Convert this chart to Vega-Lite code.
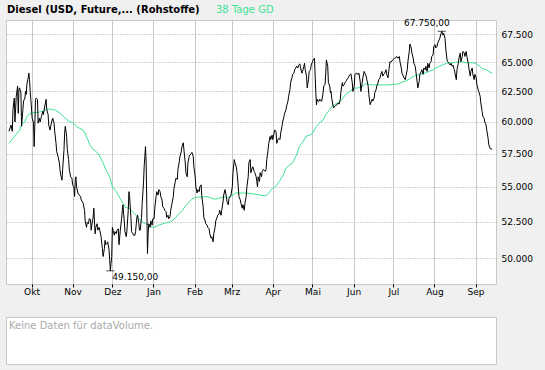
{
  "$schema": "https://vega.github.io/schema/vega-lite/v6.json",
  "background": "#f0f0f0",
  "padding": {"left": 5, "top": 5, "right": 13, "bottom": 5},
  "config": {
    "locale": {
      "number": {"decimal": ",", "thousands": ".", "grouping": [3], "currency": ["", " €"]},
      "time": {
        "dateTime": "%A, der %e. %B %Y, %X",
        "date": "%d.%m.%Y",
        "time": "%H:%M:%S",
        "periods": ["AM", "PM"],
        "days": ["Sonntag", "Montag", "Dienstag", "Mittwoch", "Donnerstag", "Freitag", "Samstag"],
        "shortDays": ["So", "Mo", "Di", "Mi", "Do", "Fr", "Sa"],
        "months": ["Januar", "Februar", "März", "April", "Mai", "Juni", "Juli", "August", "September", "Oktober", "November", "Dezember"],
        "shortMonths": ["Jan", "Feb", "Mrz", "Apr", "Mai", "Jun", "Jul", "Aug", "Sep", "Okt", "Nov", "Dez"]
      }
    },
    "view": {"stroke": "#c8c8c8", "fill": "white"},
    "font": "DejaVu Sans"
  },
  "spacing": 19,
  "datasets": {
    "price": [
      {"t": "2018-09-14T00:00", "v": 59250}, {"t": "2018-09-15T12:00", "v": 59750}, {"t": "2018-09-16T12:00", "v": 59250}, {"t": "2018-09-17T00:00", "v": 61000}, {"t": "2018-09-18T00:00", "v": 61950}, {"t": "2018-09-18T12:00", "v": 60000}, {"t": "2018-09-19T12:00", "v": 62100}, {"t": "2018-09-20T12:00", "v": 62950}, {"t": "2018-09-21T00:00", "v": 60700}, {"t": "2018-09-21T12:00", "v": 62650}, {"t": "2018-09-22T00:00", "v": 62800}, {"t": "2018-09-23T00:00", "v": 62400}, {"t": "2018-09-23T12:00", "v": 59650}, {"t": "2018-09-24T12:00", "v": 61000}, {"t": "2018-09-25T00:00", "v": 61700}, {"t": "2018-09-26T00:00", "v": 61950}, {"t": "2018-09-26T12:00", "v": 62500}, {"t": "2018-09-27T00:00", "v": 62250}, {"t": "2018-09-27T12:00", "v": 63100}, {"t": "2018-09-28T12:00", "v": 63650}, {"t": "2018-09-29T00:00", "v": 64050}, {"t": "2018-09-29T12:00", "v": 63500}, {"t": "2018-09-30T00:00", "v": 62500}, {"t": "2018-09-30T12:00", "v": 61850},
      {"t": "2018-10-01T12:00", "v": 60300}, {"t": "2018-10-02T12:00", "v": 59900}, {"t": "2018-10-03T00:00", "v": 58050}, {"t": "2018-10-03T12:00", "v": 59750}, {"t": "2018-10-04T00:00", "v": 61850}, {"t": "2018-10-04T12:00", "v": 61950}, {"t": "2018-10-05T12:00", "v": 61850}, {"t": "2018-10-06T00:00", "v": 59900}, {"t": "2018-10-07T00:00", "v": 60300}, {"t": "2018-10-07T12:00", "v": 60000}, {"t": "2018-10-08T12:00", "v": 60450}, {"t": "2018-10-09T12:00", "v": 60850}, {"t": "2018-10-10T00:00", "v": 60600}, {"t": "2018-10-11T00:00", "v": 61300}, {"t": "2018-10-11T12:00", "v": 61550}, {"t": "2018-10-12T00:00", "v": 61850}, {"t": "2018-10-12T12:00", "v": 61000}, {"t": "2018-10-13T12:00", "v": 60600}, {"t": "2018-10-14T00:00", "v": 59750}, {"t": "2018-10-15T00:00", "v": 59350}, {"t": "2018-10-15T12:00", "v": 59650}, {"t": "2018-10-16T12:00", "v": 60150}, {"t": "2018-10-17T00:00", "v": 60300}, {"t": "2018-10-18T00:00", "v": 59900}, {"t": "2018-10-18T12:00", "v": 59250}, {"t": "2018-10-19T12:00", "v": 58300}, {"t": "2018-10-20T00:00", "v": 57650}, {"t": "2018-10-21T00:00", "v": 57300}, {"t": "2018-10-22T00:00", "v": 56800}, {"t": "2018-10-22T12:00", "v": 56300}, {"t": "2018-10-23T00:00", "v": 55900}, {"t": "2018-10-24T00:00", "v": 55500}, {"t": "2018-10-24T12:00", "v": 56300}, {"t": "2018-10-25T12:00", "v": 57800}, {"t": "2018-10-26T00:00", "v": 59100}, {"t": "2018-10-26T12:00", "v": 59650}, {"t": "2018-10-27T12:00", "v": 58850}, {"t": "2018-10-28T00:00", "v": 57800}, {"t": "2018-10-29T00:00", "v": 57050}, {"t": "2018-10-29T12:00", "v": 56300}, {"t": "2018-10-30T12:00", "v": 55750}, {"t": "2018-10-31T12:00", "v": 55650},
      {"t": "2018-11-01T00:00", "v": 55150}, {"t": "2018-11-02T00:00", "v": 55000}, {"t": "2018-11-02T12:00", "v": 54300}, {"t": "2018-11-03T00:00", "v": 55500}, {"t": "2018-11-03T12:00", "v": 55750}, {"t": "2018-11-04T00:00", "v": 55000}, {"t": "2018-11-05T00:00", "v": 54550}, {"t": "2018-11-06T00:00", "v": 54400}, {"t": "2018-11-07T00:00", "v": 54300}, {"t": "2018-11-07T12:00", "v": 54050}, {"t": "2018-11-08T12:00", "v": 53900}, {"t": "2018-11-09T00:00", "v": 53800}, {"t": "2018-11-10T00:00", "v": 53300}, {"t": "2018-11-10T12:00", "v": 52550}, {"t": "2018-11-11T12:00", "v": 52100}, {"t": "2018-11-12T00:00", "v": 52450}, {"t": "2018-11-13T00:00", "v": 52350}, {"t": "2018-11-13T12:00", "v": 52700}, {"t": "2018-11-14T12:00", "v": 52650}, {"t": "2018-11-15T00:00", "v": 51900}, {"t": "2018-11-16T00:00", "v": 52550}, {"t": "2018-11-16T12:00", "v": 52800}, {"t": "2018-11-17T00:00", "v": 53450}, {"t": "2018-11-18T00:00", "v": 51650}, {"t": "2018-11-18T12:00", "v": 52100}, {"t": "2018-11-19T12:00", "v": 52350}, {"t": "2018-11-20T00:00", "v": 51900}, {"t": "2018-11-21T00:00", "v": 52100}, {"t": "2018-11-21T12:00", "v": 51900}, {"t": "2018-11-22T12:00", "v": 51450}, {"t": "2018-11-23T00:00", "v": 51000}, {"t": "2018-11-23T12:00", "v": 50650}, {"t": "2018-11-24T00:00", "v": 50100}, {"t": "2018-11-25T00:00", "v": 50650}, {"t": "2018-11-25T12:00", "v": 51200}, {"t": "2018-11-26T00:00", "v": 50900}, {"t": "2018-11-27T00:00", "v": 51000}, {"t": "2018-11-27T12:00", "v": 51100}, {"t": "2018-11-28T12:00", "v": 50550}, {"t": "2018-11-29T00:00", "v": 49850}, {"t": "2018-11-29T12:00", "v": 49150}, {"t": "2018-11-30T00:00", "v": 49650}, {"t": "2018-11-30T12:00", "v": 50100},
      {"t": "2018-12-01T00:00", "v": 52100}, {"t": "2018-12-01T12:00", "v": 51900}, {"t": "2018-12-02T12:00", "v": 51550}, {"t": "2018-12-03T00:00", "v": 51800}, {"t": "2018-12-04T00:00", "v": 51650}, {"t": "2018-12-04T12:00", "v": 51900}, {"t": "2018-12-05T12:00", "v": 52000}, {"t": "2018-12-06T00:00", "v": 50900}, {"t": "2018-12-07T00:00", "v": 51900}, {"t": "2018-12-08T00:00", "v": 52700}, {"t": "2018-12-08T12:00", "v": 53300}, {"t": "2018-12-09T00:00", "v": 53700}, {"t": "2018-12-09T12:00", "v": 53050}, {"t": "2018-12-10T00:00", "v": 52550}, {"t": "2018-12-10T12:00", "v": 51800}, {"t": "2018-12-11T12:00", "v": 51450}, {"t": "2018-12-12T00:00", "v": 51900}, {"t": "2018-12-13T00:00", "v": 53300}, {"t": "2018-12-13T12:00", "v": 54650}, {"t": "2018-12-14T00:00", "v": 54300}, {"t": "2018-12-15T00:00", "v": 52800}, {"t": "2018-12-15T12:00", "v": 51800}, {"t": "2018-12-16T12:00", "v": 51650}, {"t": "2018-12-17T00:00", "v": 51550}, {"t": "2018-12-18T00:00", "v": 51550}, {"t": "2018-12-18T12:00", "v": 51800}, {"t": "2018-12-19T12:00", "v": 52800}, {"t": "2018-12-20T00:00", "v": 52950}, {"t": "2018-12-21T00:00", "v": 52350}, {"t": "2018-12-21T12:00", "v": 51900}, {"t": "2018-12-22T00:00", "v": 51900}, {"t": "2018-12-23T00:00", "v": 52800}, {"t": "2018-12-23T12:00", "v": 53800}, {"t": "2018-12-24T12:00", "v": 55300}, {"t": "2018-12-25T00:00", "v": 56500}, {"t": "2018-12-25T12:00", "v": 57300}, {"t": "2018-12-26T00:00", "v": 58050}, {"t": "2018-12-26T12:00", "v": 56800}, {"t": "2018-12-27T00:00", "v": 53550}, {"t": "2018-12-27T12:00", "v": 50300}, {"t": "2018-12-28T00:00", "v": 51650}, {"t": "2018-12-28T12:00", "v": 52350}, {"t": "2018-12-29T12:00", "v": 52100}, {"t": "2018-12-30T00:00", "v": 52550}, {"t": "2018-12-31T00:00", "v": 52250}, {"t": "2018-12-31T12:00", "v": 52700},
      {"t": "2019-01-01T12:00", "v": 52700}, {"t": "2019-01-02T00:00", "v": 53450}, {"t": "2019-01-03T00:00", "v": 54300}, {"t": "2019-01-03T12:00", "v": 54650}, {"t": "2019-01-04T12:00", "v": 54400}, {"t": "2019-01-05T00:00", "v": 54800}, {"t": "2019-01-06T00:00", "v": 54650}, {"t": "2019-01-06T12:00", "v": 54300}, {"t": "2019-01-07T12:00", "v": 54050}, {"t": "2019-01-08T00:00", "v": 53550}, {"t": "2019-01-09T00:00", "v": 53450}, {"t": "2019-01-09T12:00", "v": 53300}, {"t": "2019-01-10T12:00", "v": 53200}, {"t": "2019-01-11T00:00", "v": 52800}, {"t": "2019-01-12T00:00", "v": 52950}, {"t": "2019-01-12T12:00", "v": 52700}, {"t": "2019-01-13T12:00", "v": 52850}, {"t": "2019-01-14T00:00", "v": 53300}, {"t": "2019-01-15T00:00", "v": 53800}, {"t": "2019-01-16T00:00", "v": 54300}, {"t": "2019-01-16T12:00", "v": 54900}, {"t": "2019-01-17T12:00", "v": 55400}, {"t": "2019-01-18T00:00", "v": 55650}, {"t": "2019-01-19T00:00", "v": 55550}, {"t": "2019-01-19T12:00", "v": 56300}, {"t": "2019-01-20T12:00", "v": 56900}, {"t": "2019-01-21T00:00", "v": 57300}, {"t": "2019-01-22T00:00", "v": 57650}, {"t": "2019-01-22T12:00", "v": 58050}, {"t": "2019-01-23T12:00", "v": 58350}, {"t": "2019-01-24T00:00", "v": 57800}, {"t": "2019-01-25T00:00", "v": 56800}, {"t": "2019-01-25T12:00", "v": 56050}, {"t": "2019-01-26T12:00", "v": 55750}, {"t": "2019-01-27T00:00", "v": 56800}, {"t": "2019-01-28T00:00", "v": 57300}, {"t": "2019-01-28T12:00", "v": 57400}, {"t": "2019-01-29T12:00", "v": 57500}, {"t": "2019-01-30T00:00", "v": 57600}, {"t": "2019-01-31T00:00", "v": 57300}, {"t": "2019-01-31T12:00", "v": 56500},
      {"t": "2019-02-01T12:00", "v": 55750}, {"t": "2019-02-02T00:00", "v": 55000}, {"t": "2019-02-03T00:00", "v": 54550}, {"t": "2019-02-03T12:00", "v": 54800}, {"t": "2019-02-04T12:00", "v": 54650}, {"t": "2019-02-05T00:00", "v": 55000}, {"t": "2019-02-06T00:00", "v": 55150}, {"t": "2019-02-06T12:00", "v": 54300}, {"t": "2019-02-07T12:00", "v": 53550}, {"t": "2019-02-08T00:00", "v": 52800}, {"t": "2019-02-09T00:00", "v": 52550}, {"t": "2019-02-09T12:00", "v": 52350}, {"t": "2019-02-10T12:00", "v": 52250}, {"t": "2019-02-11T00:00", "v": 52100}, {"t": "2019-02-12T00:00", "v": 52000}, {"t": "2019-02-12T12:00", "v": 51650}, {"t": "2019-02-13T12:00", "v": 51350}, {"t": "2019-02-14T00:00", "v": 51450}, {"t": "2019-02-15T00:00", "v": 51100}, {"t": "2019-02-15T12:00", "v": 51650}, {"t": "2019-02-16T12:00", "v": 52100}, {"t": "2019-02-17T00:00", "v": 52550}, {"t": "2019-02-18T00:00", "v": 52800}, {"t": "2019-02-18T12:00", "v": 52950}, {"t": "2019-02-19T12:00", "v": 53050}, {"t": "2019-02-20T00:00", "v": 53300}, {"t": "2019-02-21T00:00", "v": 52950}, {"t": "2019-02-21T12:00", "v": 53300}, {"t": "2019-02-22T12:00", "v": 53900}, {"t": "2019-02-23T00:00", "v": 54400}, {"t": "2019-02-24T00:00", "v": 54800}, {"t": "2019-02-25T00:00", "v": 54300}, {"t": "2019-02-25T12:00", "v": 53900}, {"t": "2019-02-26T12:00", "v": 53700}, {"t": "2019-02-27T00:00", "v": 54150}, {"t": "2019-02-28T00:00", "v": 54300}, {"t": "2019-02-28T12:00", "v": 54400},
      {"t": "2019-03-01T12:00", "v": 55000}, {"t": "2019-03-02T00:00", "v": 56050}, {"t": "2019-03-03T00:00", "v": 57050}, {"t": "2019-03-03T12:00", "v": 56800}, {"t": "2019-03-04T12:00", "v": 56500}, {"t": "2019-03-05T00:00", "v": 56150}, {"t": "2019-03-06T00:00", "v": 55000}, {"t": "2019-03-06T12:00", "v": 54300}, {"t": "2019-03-07T12:00", "v": 54050}, {"t": "2019-03-08T00:00", "v": 53800}, {"t": "2019-03-09T00:00", "v": 53450}, {"t": "2019-03-09T12:00", "v": 53700}, {"t": "2019-03-10T12:00", "v": 53300}, {"t": "2019-03-11T00:00", "v": 53800}, {"t": "2019-03-12T00:00", "v": 54300}, {"t": "2019-03-12T12:00", "v": 55000}, {"t": "2019-03-13T12:00", "v": 55750}, {"t": "2019-03-14T00:00", "v": 56800}, {"t": "2019-03-15T00:00", "v": 57050}, {"t": "2019-03-15T12:00", "v": 56050}, {"t": "2019-03-16T12:00", "v": 56400}, {"t": "2019-03-17T00:00", "v": 56500}, {"t": "2019-03-18T00:00", "v": 56150}, {"t": "2019-03-18T12:00", "v": 56050}, {"t": "2019-03-19T12:00", "v": 55750}, {"t": "2019-03-20T00:00", "v": 55400}, {"t": "2019-03-20T12:00", "v": 55000}, {"t": "2019-03-21T00:00", "v": 55750}, {"t": "2019-03-22T00:00", "v": 55400}, {"t": "2019-03-22T12:00", "v": 56050}, {"t": "2019-03-23T12:00", "v": 55750}, {"t": "2019-03-24T00:00", "v": 56150}, {"t": "2019-03-25T00:00", "v": 56300}, {"t": "2019-03-25T12:00", "v": 56250}, {"t": "2019-03-26T12:00", "v": 56150}, {"t": "2019-03-27T00:00", "v": 56300}, {"t": "2019-03-27T12:00", "v": 57050}, {"t": "2019-03-28T12:00", "v": 57800}, {"t": "2019-03-29T00:00", "v": 58300}, {"t": "2019-03-30T00:00", "v": 58850}, {"t": "2019-03-30T12:00", "v": 58600}, {"t": "2019-03-31T12:00", "v": 58950},
      {"t": "2019-04-01T00:00", "v": 58600}, {"t": "2019-04-02T00:00", "v": 59100}, {"t": "2019-04-02T12:00", "v": 59350}, {"t": "2019-04-03T12:00", "v": 59250}, {"t": "2019-04-04T00:00", "v": 58300}, {"t": "2019-04-05T00:00", "v": 58600}, {"t": "2019-04-05T12:00", "v": 58700}, {"t": "2019-04-06T12:00", "v": 58600}, {"t": "2019-04-07T00:00", "v": 59100}, {"t": "2019-04-08T00:00", "v": 59650}, {"t": "2019-04-08T12:00", "v": 60000}, {"t": "2019-04-09T12:00", "v": 60450}, {"t": "2019-04-10T00:00", "v": 60700}, {"t": "2019-04-11T00:00", "v": 61000}, {"t": "2019-04-11T12:00", "v": 61300}, {"t": "2019-04-12T12:00", "v": 61700}, {"t": "2019-04-13T00:00", "v": 62100}, {"t": "2019-04-14T00:00", "v": 62650}, {"t": "2019-04-14T12:00", "v": 63250}, {"t": "2019-04-15T12:00", "v": 63650}, {"t": "2019-04-16T00:00", "v": 63950}, {"t": "2019-04-17T00:00", "v": 64050}, {"t": "2019-04-17T12:00", "v": 64350}, {"t": "2019-04-18T12:00", "v": 64500}, {"t": "2019-04-19T00:00", "v": 64650}, {"t": "2019-04-20T00:00", "v": 64500}, {"t": "2019-04-20T12:00", "v": 64750}, {"t": "2019-04-21T12:00", "v": 64850}, {"t": "2019-04-22T00:00", "v": 64500}, {"t": "2019-04-23T00:00", "v": 64050}, {"t": "2019-04-23T12:00", "v": 64200}, {"t": "2019-04-24T12:00", "v": 64650}, {"t": "2019-04-25T00:00", "v": 64900}, {"t": "2019-04-25T12:00", "v": 64350}, {"t": "2019-04-26T12:00", "v": 63800}, {"t": "2019-04-27T00:00", "v": 62800}, {"t": "2019-04-28T00:00", "v": 63500}, {"t": "2019-04-28T12:00", "v": 64200}, {"t": "2019-04-29T12:00", "v": 64350}, {"t": "2019-04-30T00:00", "v": 64750},
      {"t": "2019-05-01T00:00", "v": 65050}, {"t": "2019-05-01T12:00", "v": 65200}, {"t": "2019-05-02T12:00", "v": 65350}, {"t": "2019-05-03T00:00", "v": 63800}, {"t": "2019-05-03T12:00", "v": 62400}, {"t": "2019-05-04T00:00", "v": 61400}, {"t": "2019-05-04T12:00", "v": 61850}, {"t": "2019-05-05T00:00", "v": 61700}, {"t": "2019-05-06T00:00", "v": 61700}, {"t": "2019-05-06T12:00", "v": 61850}, {"t": "2019-05-07T12:00", "v": 61700}, {"t": "2019-05-08T00:00", "v": 61700}, {"t": "2019-05-09T00:00", "v": 62400}, {"t": "2019-05-09T12:00", "v": 62950}, {"t": "2019-05-10T12:00", "v": 63100}, {"t": "2019-05-11T00:00", "v": 64050}, {"t": "2019-05-11T12:00", "v": 65200}, {"t": "2019-05-12T12:00", "v": 64650}, {"t": "2019-05-13T00:00", "v": 63250}, {"t": "2019-05-14T00:00", "v": 62950}, {"t": "2019-05-14T12:00", "v": 62400}, {"t": "2019-05-15T00:00", "v": 62500}, {"t": "2019-05-15T12:00", "v": 61950}, {"t": "2019-05-16T12:00", "v": 61300}, {"t": "2019-05-17T00:00", "v": 61150}, {"t": "2019-05-18T00:00", "v": 61300}, {"t": "2019-05-18T12:00", "v": 61350}, {"t": "2019-05-19T12:00", "v": 61400}, {"t": "2019-05-20T12:00", "v": 61550}, {"t": "2019-05-21T00:00", "v": 61450}, {"t": "2019-05-22T00:00", "v": 61850}, {"t": "2019-05-22T12:00", "v": 62500}, {"t": "2019-05-23T12:00", "v": 63250}, {"t": "2019-05-24T00:00", "v": 62950}, {"t": "2019-05-25T00:00", "v": 63100}, {"t": "2019-05-25T12:00", "v": 63250}, {"t": "2019-05-26T12:00", "v": 63400}, {"t": "2019-05-27T00:00", "v": 63500}, {"t": "2019-05-28T00:00", "v": 63650}, {"t": "2019-05-28T12:00", "v": 63800}, {"t": "2019-05-29T12:00", "v": 63950}, {"t": "2019-05-30T00:00", "v": 64000}, {"t": "2019-05-31T00:00", "v": 63250}, {"t": "2019-05-31T12:00", "v": 62500},
      {"t": "2019-06-01T12:00", "v": 62950}, {"t": "2019-06-02T00:00", "v": 63950}, {"t": "2019-06-03T00:00", "v": 64050}, {"t": "2019-06-03T12:00", "v": 64000}, {"t": "2019-06-04T12:00", "v": 63950}, {"t": "2019-06-05T00:00", "v": 64050}, {"t": "2019-06-06T00:00", "v": 63350}, {"t": "2019-06-06T12:00", "v": 62500}, {"t": "2019-06-07T12:00", "v": 63250}, {"t": "2019-06-08T00:00", "v": 63650}, {"t": "2019-06-09T00:00", "v": 64200}, {"t": "2019-06-09T12:00", "v": 64050}, {"t": "2019-06-10T12:00", "v": 63800}, {"t": "2019-06-11T00:00", "v": 63500}, {"t": "2019-06-12T00:00", "v": 62950}, {"t": "2019-06-12T12:00", "v": 62250}, {"t": "2019-06-13T12:00", "v": 61400}, {"t": "2019-06-14T00:00", "v": 61550}, {"t": "2019-06-15T00:00", "v": 61850}, {"t": "2019-06-15T12:00", "v": 61700}, {"t": "2019-06-16T12:00", "v": 61950}, {"t": "2019-06-17T00:00", "v": 62400}, {"t": "2019-06-18T00:00", "v": 62650}, {"t": "2019-06-18T12:00", "v": 62950}, {"t": "2019-06-19T12:00", "v": 63250}, {"t": "2019-06-20T00:00", "v": 63500}, {"t": "2019-06-21T00:00", "v": 63650}, {"t": "2019-06-21T12:00", "v": 63950}, {"t": "2019-06-22T12:00", "v": 64200}, {"t": "2019-06-23T00:00", "v": 63800}, {"t": "2019-06-24T00:00", "v": 64000}, {"t": "2019-06-24T12:00", "v": 64050}, {"t": "2019-06-25T12:00", "v": 64350}, {"t": "2019-06-26T00:00", "v": 63950}, {"t": "2019-06-27T00:00", "v": 63650}, {"t": "2019-06-27T12:00", "v": 64200}, {"t": "2019-06-28T12:00", "v": 65050}, {"t": "2019-06-29T00:00", "v": 65000}, {"t": "2019-06-30T00:00", "v": 65100}, {"t": "2019-06-30T12:00", "v": 65200},
      {"t": "2019-07-01T12:00", "v": 65300}, {"t": "2019-07-02T00:00", "v": 65350}, {"t": "2019-07-03T00:00", "v": 65400}, {"t": "2019-07-03T12:00", "v": 65500}, {"t": "2019-07-04T12:00", "v": 65350}, {"t": "2019-07-05T12:00", "v": 65500}, {"t": "2019-07-06T00:00", "v": 65050}, {"t": "2019-07-07T00:00", "v": 64500}, {"t": "2019-07-07T12:00", "v": 64050}, {"t": "2019-07-08T12:00", "v": 63800}, {"t": "2019-07-09T00:00", "v": 63650}, {"t": "2019-07-10T00:00", "v": 63500}, {"t": "2019-07-10T12:00", "v": 63800}, {"t": "2019-07-11T12:00", "v": 64350}, {"t": "2019-07-12T00:00", "v": 65050}, {"t": "2019-07-13T00:00", "v": 65950}, {"t": "2019-07-13T12:00", "v": 66600}, {"t": "2019-07-14T12:00", "v": 66250}, {"t": "2019-07-15T00:00", "v": 65800}, {"t": "2019-07-16T00:00", "v": 65350}, {"t": "2019-07-16T12:00", "v": 64900}, {"t": "2019-07-17T12:00", "v": 64650}, {"t": "2019-07-18T00:00", "v": 64200}, {"t": "2019-07-19T00:00", "v": 63250}, {"t": "2019-07-19T12:00", "v": 62800}, {"t": "2019-07-20T12:00", "v": 63350}, {"t": "2019-07-21T00:00", "v": 63950}, {"t": "2019-07-22T00:00", "v": 64200}, {"t": "2019-07-22T12:00", "v": 64350}, {"t": "2019-07-23T12:00", "v": 63950}, {"t": "2019-07-24T00:00", "v": 64500}, {"t": "2019-07-25T00:00", "v": 64350}, {"t": "2019-07-25T12:00", "v": 64650}, {"t": "2019-07-26T12:00", "v": 64200}, {"t": "2019-07-27T00:00", "v": 64900}, {"t": "2019-07-28T00:00", "v": 64500}, {"t": "2019-07-28T12:00", "v": 64900}, {"t": "2019-07-29T12:00", "v": 65050}, {"t": "2019-07-30T00:00", "v": 65500}, {"t": "2019-07-31T00:00", "v": 65650}, {"t": "2019-07-31T12:00", "v": 66400},
      {"t": "2019-08-01T12:00", "v": 66550}, {"t": "2019-08-02T00:00", "v": 66250}, {"t": "2019-08-03T00:00", "v": 66400}, {"t": "2019-08-03T12:00", "v": 66700}, {"t": "2019-08-04T12:00", "v": 66950}, {"t": "2019-08-05T00:00", "v": 67100}, {"t": "2019-08-06T00:00", "v": 67550}, {"t": "2019-08-06T12:00", "v": 67750}, {"t": "2019-08-07T12:00", "v": 67400}, {"t": "2019-08-08T00:00", "v": 67550}, {"t": "2019-08-09T00:00", "v": 67100}, {"t": "2019-08-09T12:00", "v": 66250}, {"t": "2019-08-10T12:00", "v": 65200}, {"t": "2019-08-11T00:00", "v": 65050}, {"t": "2019-08-12T00:00", "v": 64900}, {"t": "2019-08-13T00:00", "v": 64750}, {"t": "2019-08-13T12:00", "v": 64900}, {"t": "2019-08-14T12:00", "v": 64650}, {"t": "2019-08-15T00:00", "v": 64750}, {"t": "2019-08-16T00:00", "v": 64350}, {"t": "2019-08-16T12:00", "v": 64050}, {"t": "2019-08-17T12:00", "v": 63500}, {"t": "2019-08-18T00:00", "v": 64350}, {"t": "2019-08-19T00:00", "v": 64900}, {"t": "2019-08-19T12:00", "v": 65350}, {"t": "2019-08-20T12:00", "v": 65800}, {"t": "2019-08-21T00:00", "v": 65050}, {"t": "2019-08-22T00:00", "v": 65500}, {"t": "2019-08-22T12:00", "v": 65950}, {"t": "2019-08-23T12:00", "v": 65800}, {"t": "2019-08-24T00:00", "v": 65500}, {"t": "2019-08-25T00:00", "v": 65950}, {"t": "2019-08-25T12:00", "v": 65500}, {"t": "2019-08-26T12:00", "v": 64900}, {"t": "2019-08-27T00:00", "v": 64500}, {"t": "2019-08-28T00:00", "v": 63800}, {"t": "2019-08-28T12:00", "v": 64200}, {"t": "2019-08-29T12:00", "v": 64500}, {"t": "2019-08-30T00:00", "v": 63950}, {"t": "2019-08-31T00:00", "v": 63500}, {"t": "2019-08-31T12:00", "v": 63950},
      {"t": "2019-09-01T12:00", "v": 63650}, {"t": "2019-09-02T00:00", "v": 63100}, {"t": "2019-09-03T00:00", "v": 62650}, {"t": "2019-09-03T12:00", "v": 62500}, {"t": "2019-09-04T12:00", "v": 62100}, {"t": "2019-09-05T00:00", "v": 61550}, {"t": "2019-09-06T00:00", "v": 60850}, {"t": "2019-09-06T12:00", "v": 60450}, {"t": "2019-09-07T12:00", "v": 60300}, {"t": "2019-09-08T00:00", "v": 60000}, {"t": "2019-09-09T00:00", "v": 59750}, {"t": "2019-09-09T12:00", "v": 59350}, {"t": "2019-09-10T12:00", "v": 58700}, {"t": "2019-09-11T00:00", "v": 58200}, {"t": "2019-09-12T00:00", "v": 57900}, {"t": "2019-09-13T12:00", "v": 57850}
    ],
    "ma": [
      {"t": "2018-09-14T00:00", "v": 58300}, {"t": "2018-09-17T00:00", "v": 58700}, {"t": "2018-09-19T00:00", "v": 58950}, {"t": "2018-09-22T00:00", "v": 59350}, {"t": "2018-09-23T00:00", "v": 59650}, {"t": "2018-09-24T00:00", "v": 59900}, {"t": "2018-09-26T00:00", "v": 60000}, {"t": "2018-09-27T00:00", "v": 60300}, {"t": "2018-09-28T00:00", "v": 60500}, {"t": "2018-09-29T00:00", "v": 60600}, {"t": "2018-10-02T00:00", "v": 60750}, {"t": "2018-10-04T00:00", "v": 60750}, {"t": "2018-10-07T00:00", "v": 60800}, {"t": "2018-10-09T00:00", "v": 60850}, {"t": "2018-10-12T00:00", "v": 61000}, {"t": "2018-10-14T00:00", "v": 61050}, {"t": "2018-10-17T00:00", "v": 61000}, {"t": "2018-10-19T00:00", "v": 60950}, {"t": "2018-10-22T00:00", "v": 60750}, {"t": "2018-10-25T00:00", "v": 60450}, {"t": "2018-10-27T00:00", "v": 60250}, {"t": "2018-10-30T00:00", "v": 60000}, {"t": "2018-11-01T00:00", "v": 59950}, {"t": "2018-11-04T00:00", "v": 59650}, {"t": "2018-11-06T00:00", "v": 59500}, {"t": "2018-11-09T00:00", "v": 59350}, {"t": "2018-11-11T00:00", "v": 58950}, {"t": "2018-11-14T00:00", "v": 58200}, {"t": "2018-11-16T00:00", "v": 57900}, {"t": "2018-11-19T00:00", "v": 57650}, {"t": "2018-11-21T00:00", "v": 57400}, {"t": "2018-11-24T00:00", "v": 56800}, {"t": "2018-11-26T00:00", "v": 56300}, {"t": "2018-11-29T00:00", "v": 55750}, {"t": "2018-12-01T00:00", "v": 55000}, {"t": "2018-12-04T00:00", "v": 54650}, {"t": "2018-12-06T00:00", "v": 54300}, {"t": "2018-12-09T00:00", "v": 53800}, {"t": "2018-12-11T00:00", "v": 53500}, {"t": "2018-12-14T00:00", "v": 53450}, {"t": "2018-12-16T00:00", "v": 53200}, {"t": "2018-12-19T00:00", "v": 52950}, {"t": "2018-12-21T00:00", "v": 52700}, {"t": "2018-12-24T00:00", "v": 52450}, {"t": "2018-12-26T00:00", "v": 52350}, {"t": "2018-12-29T00:00", "v": 52250}, {"t": "2018-12-31T00:00", "v": 52100},
      {"t": "2019-01-03T00:00", "v": 52150}, {"t": "2019-01-05T00:00", "v": 52250}, {"t": "2019-01-08T00:00", "v": 52350}, {"t": "2019-01-10T00:00", "v": 52400}, {"t": "2019-01-13T00:00", "v": 52450}, {"t": "2019-01-15T00:00", "v": 52550}, {"t": "2019-01-18T00:00", "v": 52800}, {"t": "2019-01-20T00:00", "v": 53050}, {"t": "2019-01-23T00:00", "v": 53300}, {"t": "2019-01-25T00:00", "v": 53600}, {"t": "2019-01-28T00:00", "v": 53900}, {"t": "2019-01-30T00:00", "v": 54100}, {"t": "2019-02-02T00:00", "v": 54250}, {"t": "2019-02-04T00:00", "v": 54250}, {"t": "2019-02-07T00:00", "v": 54250}, {"t": "2019-02-09T00:00", "v": 54300}, {"t": "2019-02-12T00:00", "v": 54250}, {"t": "2019-02-14T00:00", "v": 54150}, {"t": "2019-02-17T00:00", "v": 54100}, {"t": "2019-02-19T00:00", "v": 54150}, {"t": "2019-02-22T00:00", "v": 54250}, {"t": "2019-02-24T00:00", "v": 54250}, {"t": "2019-02-27T00:00", "v": 54250}, {"t": "2019-03-02T00:00", "v": 54400}, {"t": "2019-03-04T00:00", "v": 54550}, {"t": "2019-03-07T00:00", "v": 54550}, {"t": "2019-03-09T00:00", "v": 54550}, {"t": "2019-03-12T00:00", "v": 54550}, {"t": "2019-03-17T00:00", "v": 54500}, {"t": "2019-03-22T00:00", "v": 54400}, {"t": "2019-03-27T00:00", "v": 54350}, {"t": "2019-03-29T00:00", "v": 54550}, {"t": "2019-04-01T00:00", "v": 54900}, {"t": "2019-04-03T00:00", "v": 55000}, {"t": "2019-04-06T00:00", "v": 55400}, {"t": "2019-04-09T00:00", "v": 55900}, {"t": "2019-04-11T00:00", "v": 56400}, {"t": "2019-04-14T00:00", "v": 56650}, {"t": "2019-04-16T00:00", "v": 56800}, {"t": "2019-04-19T00:00", "v": 57400}, {"t": "2019-04-21T00:00", "v": 58050}, {"t": "2019-04-24T00:00", "v": 58450}, {"t": "2019-04-26T00:00", "v": 58850}, {"t": "2019-04-29T00:00", "v": 58950},
      {"t": "2019-05-01T00:00", "v": 59100}, {"t": "2019-05-04T00:00", "v": 59650}, {"t": "2019-05-06T00:00", "v": 59900}, {"t": "2019-05-09T00:00", "v": 60150}, {"t": "2019-05-11T00:00", "v": 60600}, {"t": "2019-05-14T00:00", "v": 61000}, {"t": "2019-05-16T00:00", "v": 61300}, {"t": "2019-05-19T00:00", "v": 61500}, {"t": "2019-05-21T00:00", "v": 61550}, {"t": "2019-05-24T00:00", "v": 61950}, {"t": "2019-05-26T00:00", "v": 62250}, {"t": "2019-05-29T00:00", "v": 62500}, {"t": "2019-05-31T00:00", "v": 62650}, {"t": "2019-06-03T00:00", "v": 62800}, {"t": "2019-06-05T00:00", "v": 62800}, {"t": "2019-06-08T00:00", "v": 62950}, {"t": "2019-06-10T00:00", "v": 63150}, {"t": "2019-06-13T00:00", "v": 63100}, {"t": "2019-06-15T00:00", "v": 63050}, {"t": "2019-06-18T00:00", "v": 63050}, {"t": "2019-06-20T00:00", "v": 63050}, {"t": "2019-06-23T00:00", "v": 63050}, {"t": "2019-06-25T00:00", "v": 63050}, {"t": "2019-06-28T00:00", "v": 63050}, {"t": "2019-06-30T00:00", "v": 63100}, {"t": "2019-07-03T00:00", "v": 63100}, {"t": "2019-07-05T00:00", "v": 63150}, {"t": "2019-07-08T00:00", "v": 63300}, {"t": "2019-07-11T00:00", "v": 63400}, {"t": "2019-07-13T00:00", "v": 63550}, {"t": "2019-07-16T00:00", "v": 63750}, {"t": "2019-07-18T00:00", "v": 63850}, {"t": "2019-07-21T00:00", "v": 63950}, {"t": "2019-07-23T00:00", "v": 64000}, {"t": "2019-07-26T00:00", "v": 64100}, {"t": "2019-07-28T00:00", "v": 64200}, {"t": "2019-07-31T00:00", "v": 64350}, {"t": "2019-08-02T00:00", "v": 64500}, {"t": "2019-08-05T00:00", "v": 64650}, {"t": "2019-08-07T00:00", "v": 64750}, {"t": "2019-08-10T00:00", "v": 64900}, {"t": "2019-08-12T00:00", "v": 64950}, {"t": "2019-08-15T00:00", "v": 64950}, {"t": "2019-08-17T00:00", "v": 65000}, {"t": "2019-08-20T00:00", "v": 65000}, {"t": "2019-08-22T00:00", "v": 65050}, {"t": "2019-08-25T00:00", "v": 64950}, {"t": "2019-08-27T00:00", "v": 64950}, {"t": "2019-08-30T00:00", "v": 64950}, {"t": "2019-09-01T00:00", "v": 64900}, {"t": "2019-09-04T00:00", "v": 64650}, {"t": "2019-09-06T00:00", "v": 64450}, {"t": "2019-09-09T00:00", "v": 64350}, {"t": "2019-09-11T00:00", "v": 64200}, {"t": "2019-09-13T12:00", "v": 64050}
    ],
    "ext": [
      {"t": "2018-11-29T12:00", "v": 49150, "kind": "min"},
      {"t": "2019-08-06T12:00", "v": 67750, "kind": "max"}
    ]
  },
  "vconcat": [
    {
      "width": 490,
      "height": 264,
      "encoding": {
        "x": {
          "field": "t", "type": "temporal",
          "scale": {"domain": [{"year": 2018, "month": 9, "date": 11, "hours": 18}, {"year": 2019, "month": 9, "date": 16, "hours": 11}], "nice": false},
          "axis": {"title": null, "format": "%b", "tickCount": {"interval": "month", "step": 1}, "labelFont": "DejaVu Sans", "labelFontSize": 9, "labelColor": "black", "labelPadding": 0, "labelFlush": false, "labelOverlap": false, "grid": true, "gridColor": "#c8c8c8", "gridWidth": 1, "domain": false, "ticks": true, "tickColor": "black", "tickSize": 3}
        },
        "y": {
          "field": "v", "type": "quantitative",
          "scale": {"type": "log", "domain": [48290, 68780], "nice": false, "zero": false},
          "axis": {"title": null, "orient": "right", "values": [50000, 52500, 55000, 57500, 60000, 62500, 65000, 67500], "format": ",.0f", "labelFont": "DejaVu Sans", "labelFontSize": 9, "labelColor": "black", "labelPadding": 5, "grid": true, "gridColor": "#a8a8a8", "gridDash": [1, 2], "gridWidth": 1, "domain": false, "ticks": false}
        }
      },
      "layer": [
        {
          "data": {"name": "ma"},
          "mark": {"type": "line", "strokeWidth": 1},
          "encoding": {
            "color": {
              "datum": "38 Tage GD", "type": "nominal",
              "scale": {"range": ["#3de394"]},
              "legend": {"orient": "none", "legendX": 1, "legendY": -15, "title": "Diesel (USD, Future,... (Rohstoffe)", "titleOrient": "left", "titleFont": "DejaVu Sans", "titleFontSize": 10, "titleFontWeight": "bold", "titleColor": "black", "titleLimit": 400, "titlePadding": 6, "labelFont": "DejaVu Sans", "labelFontSize": 10, "labelColor": "#3de394", "symbolSize": 0, "symbolStrokeWidth": 0, "symbolOpacity": 0, "labelOffset": 0, "padding": 0}
            }
          }
        },
        {
          "data": {"name": "price"},
          "mark": {"type": "line", "color": "black", "strokeWidth": 1},
          "encoding": {}
        },
        {
          "data": {"name": "ext"},
          "mark": {"type": "tick", "orient": "horizontal", "size": 8, "thickness": 1, "color": "black"},
          "encoding": {}
        },
        {
          "data": {"name": "ext"},
          "transform": [{"filter": "datum.kind == 'min'"}],
          "mark": {"type": "text", "align": "left", "baseline": "top", "dx": 2, "dy": 2, "font": "DejaVu Sans", "fontSize": 9, "color": "black"},
          "encoding": {"text": {"field": "v", "type": "quantitative", "format": ",.2f"}}
        },
        {
          "data": {"name": "ext"},
          "transform": [{"filter": "datum.kind == 'max'"}],
          "mark": {"type": "text", "align": "right", "baseline": "bottom", "dx": 8, "dy": -3, "font": "DejaVu Sans", "fontSize": 9, "color": "black"},
          "encoding": {"text": {"field": "v", "type": "quantitative", "format": ",.2f"}}
        }
      ]
    },
    {
      "width": 490,
      "height": 47,
      "data": {"values": [{"msg": "Keine Daten für dataVolume."}]},
      "mark": {"type": "text", "align": "left", "baseline": "top", "dx": 3, "dy": 4, "font": "DejaVu Sans", "fontSize": 10, "color": "#aaaaaa"},
      "encoding": {
        "x": {"datum": 0, "type": "quantitative", "scale": {"domain": [0, 1]}, "axis": null},
        "y": {"datum": 1, "type": "quantitative", "scale": {"domain": [0, 1]}, "axis": null},
        "text": {"field": "msg", "type": "nominal"}
      }
    }
  ]
}
